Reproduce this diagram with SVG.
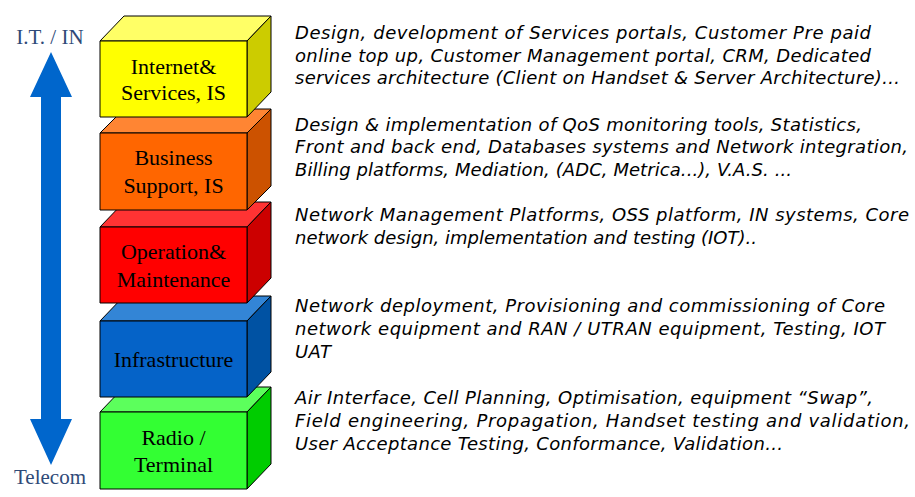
<svg xmlns="http://www.w3.org/2000/svg" width="915" height="497" viewBox="0 0 915 497">
<style>
.bx{stroke:#000;stroke-width:1;stroke-linejoin:round}
.lbl{font-family:"Liberation Serif","Times New Roman",serif;font-size:22px;fill:#000;text-anchor:middle}
.ax{font-family:"Liberation Serif","Times New Roman",serif;font-size:21px;fill:#2F4A78;text-anchor:middle}
.desc{font-family:"DejaVu Sans",Verdana,sans-serif;font-size:18px;font-style:italic;fill:#000}
</style>
<rect width="915" height="497" fill="#fff"/>

<g id="axis">
<polygon fill="#0066CC" points="51,52 72,97 61,97 61,419 72,419 51,465 30,419 41,419 41,97 30,97"/>
<text class="ax" x="50" y="44">I.T. / IN</text>
<text class="ax" x="50" y="484">Telecom</text>
</g>

<g id="radio-terminal">
<polygon class="bx" fill="#5CFF5C" points="100,412 124,387 271,387 247,412"/>
<polygon class="bx" fill="#00CC00" points="247,412 271,387 271,464 247,489"/>
<rect class="bx" fill="#33FF33" x="100" y="412" width="147" height="77"/>
<text class="lbl" x="173.5" y="445">Radio /</text>
<text class="lbl" x="173.5" y="472">Terminal</text>
</g>

<g id="infrastructure">
<polygon class="bx" fill="#3385D6" points="100,321 124,296 271,296 247,321"/>
<polygon class="bx" fill="#0052A3" points="247,321 271,296 271,372 247,397"/>
<rect class="bx" fill="#0563C8" x="100" y="321" width="147" height="76"/>
<text class="lbl" x="173.5" y="367">Infrastructure</text>
</g>

<g id="operation-maintenance">
<polygon class="bx" fill="#FF3333" points="100,227 124,202 271,202 247,227"/>
<polygon class="bx" fill="#CC0000" points="247,227 271,202 271,278 247,303"/>
<rect class="bx" fill="#FF0000" x="100" y="227" width="147" height="76"/>
<text class="lbl" x="173.5" y="259">Operation&amp;</text>
<text class="lbl" x="173.5" y="287">Maintenance</text>
</g>

<g id="business-support">
<polygon class="bx" fill="#FF8533" points="100,133 124,109 271,109 247,133"/>
<polygon class="bx" fill="#CC5200" points="247,133 271,109 271,186 247,210"/>
<rect class="bx" fill="#FF6600" x="100" y="133" width="147" height="77"/>
<text class="lbl" x="173.5" y="165">Business</text>
<text class="lbl" x="173.5" y="193">Support, IS</text>
</g>

<g id="internet-services">
<polygon class="bx" fill="#FFFF66" points="100,41 124,16 271,16 247,41"/>
<polygon class="bx" fill="#CCCC00" points="247,41 271,16 271,92 247,117"/>
<rect class="bx" fill="#FFFF00" x="100" y="41" width="147" height="76"/>
<text class="lbl" x="173.5" y="74">Internet&amp;</text>
<text class="lbl" x="173.5" y="100">Services, IS</text>
</g>

<g id="descriptions">
<text class="desc" x="295" y="39" textLength="576">Design, development of Services portals, Customer Pre paid</text>
<text class="desc" x="295" y="62" textLength="576">online top up, Customer Management portal, CRM, Dedicated</text>
<text class="desc" x="295" y="84" textLength="605">services architecture (Client on Handset &amp; Server Architecture)…</text>
<text class="desc" x="295" y="131" textLength="567">Design &amp; implementation of QoS monitoring tools, Statistics,</text>
<text class="desc" x="295" y="153" textLength="613">Front and back end, Databases systems and Network integration,</text>
<text class="desc" x="295" y="176" textLength="497">Billing platforms, Mediation, (ADC, Metrica...), V.A.S. ...</text>
<text class="desc" x="295" y="221" textLength="614">Network Management Platforms, OSS platform, IN systems, Core</text>
<text class="desc" x="295" y="244" textLength="462">network design, implementation and testing (IOT)..</text>
<text class="desc" x="295" y="312" textLength="590">Network deployment, Provisioning and commissioning of Core</text>
<text class="desc" x="295" y="335" textLength="590">network equipment and RAN / UTRAN equipment, Testing, IOT</text>
<text class="desc" x="295" y="358" textLength="36">UAT</text>
<text class="desc" x="295" y="404" textLength="578">Air Interface, Cell Planning, Optimisation, equipment “Swap”,</text>
<text class="desc" x="295" y="427" textLength="615">Field engineering, Propagation, Handset testing and validation,</text>
<text class="desc" x="295" y="450" textLength="488">User Acceptance Testing, Conformance, Validation...</text>
</g>
</svg>
